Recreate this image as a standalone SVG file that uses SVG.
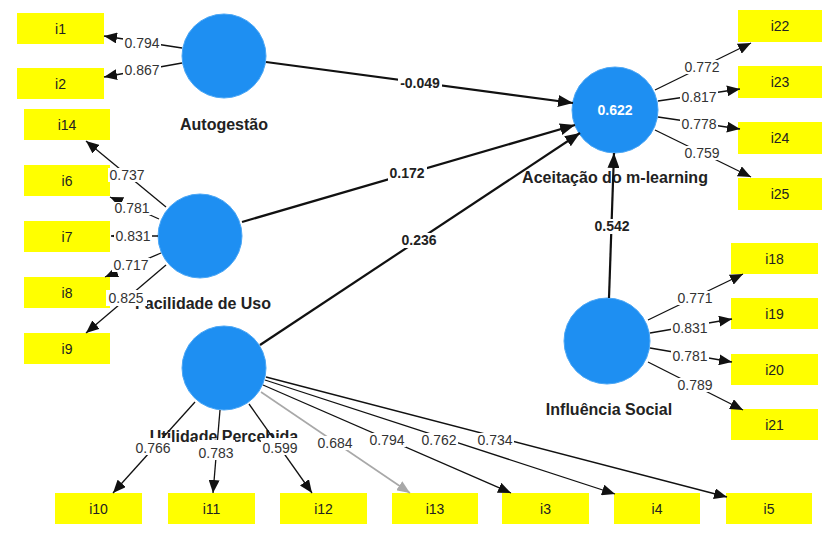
<svg xmlns="http://www.w3.org/2000/svg" width="824" height="547" viewBox="0 0 824 547">
<style>
.box{fill:#ffff00}
.bt{font-family:"Liberation Sans",Arial,sans-serif;font-size:14px;fill:#222;text-anchor:middle}
.lv{fill:#1e8ff2;stroke:#4aa6f5;stroke-width:1}
.ln{font-family:"Liberation Sans",Arial,sans-serif;font-size:16px;font-weight:bold;fill:#222;text-anchor:middle}
.r2{font-family:"Liberation Sans",Arial,sans-serif;font-size:14px;font-weight:bold;fill:#fff;text-anchor:middle}
.ol{stroke:#111;stroke-width:1.3;fill:none;marker-end:url(#ah)}
.og{stroke:#a8a8a8;stroke-width:1.6;fill:none;marker-end:url(#ahg)}
.pl{stroke:#111;stroke-width:2.2;fill:none;marker-end:url(#ahb)}
.lb rect{fill:#fff}
.lt{font-family:"Liberation Sans",Arial,sans-serif;font-size:14px;fill:#333;text-anchor:middle}
.pt{font-family:"Liberation Sans",Arial,sans-serif;font-size:14px;font-weight:bold;fill:#222;text-anchor:middle}
</style>
<defs>
<marker id="ah" markerUnits="userSpaceOnUse" markerWidth="13" markerHeight="11" refX="13" refY="5.5" orient="auto"><path d="M0,0 L13,5.5 L0,11 z" fill="#111"/></marker>
<marker id="ahg" markerUnits="userSpaceOnUse" markerWidth="13" markerHeight="11" refX="13" refY="5.5" orient="auto"><path d="M0,0 L13,5.5 L0,11 z" fill="#a8a8a8"/></marker>
<marker id="ahb" markerUnits="userSpaceOnUse" markerWidth="15" markerHeight="12" refX="15" refY="6" orient="auto"><path d="M0,0 L15,6 L0,12 z" fill="#111"/></marker>
</defs>
<rect width="824" height="547" fill="#fff"/>

<!-- indicator boxes -->
<g id="i1"><rect class="box" x="17" y="13" width="87" height="31"/><text class="bt" x="60.5" y="33.5">i1</text></g>
<g id="i2"><rect class="box" x="17" y="68" width="87" height="31"/><text class="bt" x="60.5" y="88.5">i2</text></g>
<g id="i14"><rect class="box" x="24" y="109" width="86" height="31"/><text class="bt" x="67" y="129.5">i14</text></g>
<g id="i6"><rect class="box" x="24" y="165" width="86" height="31"/><text class="bt" x="67" y="185.5">i6</text></g>
<g id="i7"><rect class="box" x="24" y="221" width="86" height="31"/><text class="bt" x="67" y="241.5">i7</text></g>
<g id="i8"><rect class="box" x="24" y="277" width="86" height="31"/><text class="bt" x="67" y="297.5">i8</text></g>
<g id="i9"><rect class="box" x="24" y="333" width="86" height="31"/><text class="bt" x="67" y="353.5">i9</text></g>
<g id="i10"><rect class="box" x="55" y="493" width="87" height="31"/><text class="bt" x="98.5" y="513.5">i10</text></g>
<g id="i11"><rect class="box" x="168" y="493" width="87" height="31"/><text class="bt" x="211.5" y="513.5">i11</text></g>
<g id="i12"><rect class="box" x="280" y="493" width="87" height="31"/><text class="bt" x="323.5" y="513.5">i12</text></g>
<g id="i13"><rect class="box" x="392" y="493" width="86" height="31"/><text class="bt" x="435" y="513.5">i13</text></g>
<g id="i3"><rect class="box" x="502" y="493" width="87" height="31"/><text class="bt" x="545.5" y="513.5">i3</text></g>
<g id="i4"><rect class="box" x="614" y="493" width="86" height="31"/><text class="bt" x="657" y="513.5">i4</text></g>
<g id="i5"><rect class="box" x="726" y="493" width="86" height="31"/><text class="bt" x="769" y="513.5">i5</text></g>
<g id="i22"><rect class="box" x="738" y="10" width="84" height="32"/><text class="bt" x="780" y="31">i22</text></g>
<g id="i23"><rect class="box" x="738" y="66" width="84" height="32"/><text class="bt" x="780" y="87">i23</text></g>
<g id="i24"><rect class="box" x="738" y="122" width="84" height="32"/><text class="bt" x="780" y="143">i24</text></g>
<g id="i25"><rect class="box" x="738" y="178" width="84" height="32"/><text class="bt" x="780" y="199">i25</text></g>
<g id="i18"><rect class="box" x="731" y="243" width="87" height="31"/><text class="bt" x="774.5" y="263.5">i18</text></g>
<g id="i19"><rect class="box" x="731" y="298" width="87" height="31"/><text class="bt" x="774.5" y="318.5">i19</text></g>
<g id="i20"><rect class="box" x="731" y="354" width="87" height="31"/><text class="bt" x="774.5" y="374.5">i20</text></g>
<g id="i21"><rect class="box" x="731" y="409" width="87" height="31"/><text class="bt" x="774.5" y="429.5">i21</text></g>

<!-- latent variables -->
<g id="autogestao"><circle class="lv" cx="224" cy="56" r="42"/><text class="ln" x="224" y="130">Autogestão</text></g>
<g id="facilidade"><circle class="lv" cx="200" cy="236" r="42"/><text class="ln" x="203" y="309">Facilidade de Uso</text></g>
<g id="utilidade"><circle class="lv" cx="224" cy="368" r="42"/><text class="ln" x="224" y="442">Utilidade Percebida</text></g>
<g id="aceitacao"><circle class="lv" cx="615" cy="110" r="43"/><text class="r2" x="615" y="115">0.622</text><text class="ln" x="615" y="183">Aceitação do m-learning</text></g>
<g id="influencia"><circle class="lv" cx="607" cy="341" r="43"/><text class="ln" x="609" y="415">Influência Social</text></g>

<!-- connectors -->
<g id="connectors">
<line class="ol" x1="182" y1="48" x2="104" y2="36"/>
<line class="ol" x1="182" y1="63" x2="104" y2="77"/>
<line class="ol" x1="166" y1="207" x2="86" y2="141"/>
<line class="ol" x1="159" y1="219" x2="110" y2="197"/>
<line class="ol" x1="158" y1="236" x2="111" y2="236"/>
<line class="ol" x1="161" y1="253" x2="105" y2="277"/>
<line class="ol" x1="166" y1="265" x2="86" y2="333"/>
<line class="ol" x1="195" y1="402" x2="113" y2="493"/>
<line class="ol" x1="220" y1="410" x2="213" y2="493"/>
<line class="ol" x1="249" y1="404" x2="312" y2="493"/>
<line class="og" x1="261" y1="392" x2="410" y2="493"/>
<line class="ol" x1="263" y1="385" x2="511" y2="493"/>
<line class="ol" x1="265" y1="380" x2="615" y2="494"/>
<line class="ol" x1="266" y1="377" x2="727" y2="497"/>
<line class="ol" x1="655" y1="90" x2="751" y2="43"/>
<line class="ol" x1="658" y1="101" x2="740" y2="89"/>
<line class="ol" x1="658" y1="117" x2="740" y2="129"/>
<line class="ol" x1="655" y1="130" x2="751" y2="177"/>
<line class="ol" x1="648" y1="320" x2="743" y2="274"/>
<line class="ol" x1="650" y1="333" x2="732" y2="319"/>
<line class="ol" x1="650" y1="348" x2="732" y2="362"/>
<line class="ol" x1="648" y1="362" x2="743" y2="410"/>
<line class="pl" x1="266" y1="62" x2="573" y2="103"/>
<line class="pl" x1="242" y1="222" x2="575" y2="125"/>
<line class="pl" x1="260" y1="345" x2="580" y2="133"/>
<line class="pl" x1="609" y1="298" x2="614" y2="153"/>

<g class="lb">
<rect x="123" y="36" width="38" height="14"/><text class="lt" x="142" y="48">0.794</text>
<rect x="123" y="63" width="38" height="14"/><text class="lt" x="142" y="75">0.867</text>
<rect x="108" y="168" width="38" height="14"/><text class="lt" x="127" y="180">0.737</text>
<rect x="114" y="202" width="37" height="13"/><text class="lt" x="132" y="213">0.781</text>
<rect x="114" y="229" width="38" height="14"/><text class="lt" x="133" y="241">0.831</text>
<rect x="112" y="258" width="38" height="14"/><text class="lt" x="131" y="270">0.717</text>
<rect x="106" y="290" width="41" height="16"/><text class="lt" x="126" y="303">0.825</text>
<rect x="134" y="438" width="38" height="17"/><text class="lt" x="153" y="453">0.766</text>
<rect x="197" y="440" width="38" height="20"/><text class="lt" x="216" y="458">0.783</text>
<rect x="261" y="438" width="38" height="17"/><text class="lt" x="280" y="453">0.599</text>
<rect x="316" y="436" width="38" height="14"/><text class="lt" x="335" y="448">0.684</text>
<rect x="368" y="433" width="38" height="14"/><text class="lt" x="387" y="445">0.794</text>
<rect x="420" y="433" width="38" height="14"/><text class="lt" x="439" y="445">0.762</text>
<rect x="476" y="433" width="38" height="14"/><text class="lt" x="495" y="445">0.734</text>
<rect x="683" y="60" width="38" height="14"/><text class="lt" x="702" y="72">0.772</text>
<rect x="680" y="90" width="38" height="14"/><text class="lt" x="699" y="102">0.817</text>
<rect x="680" y="117" width="38" height="14"/><text class="lt" x="699" y="129">0.778</text>
<rect x="683" y="146" width="38" height="14"/><text class="lt" x="702" y="158">0.759</text>
<rect x="676" y="291" width="38" height="14"/><text class="lt" x="695" y="303">0.771</text>
<rect x="671" y="321" width="38" height="14"/><text class="lt" x="690" y="333">0.831</text>
<rect x="671" y="349" width="38" height="14"/><text class="lt" x="690" y="361">0.781</text>
<rect x="676" y="378" width="38" height="14"/><text class="lt" x="695" y="390">0.789</text>
<rect x="398" y="76" width="44" height="15"/><text class="pt" x="420" y="88">-0.049</text>
<rect x="388" y="166" width="39" height="15"/><text class="pt" x="407" y="178">0.172</text>
<rect x="400" y="233" width="39" height="15"/><text class="pt" x="419" y="245">0.236</text>
<rect x="593" y="219" width="39" height="15"/><text class="pt" x="612" y="231">0.542</text>
</g>
</g>
</svg>
